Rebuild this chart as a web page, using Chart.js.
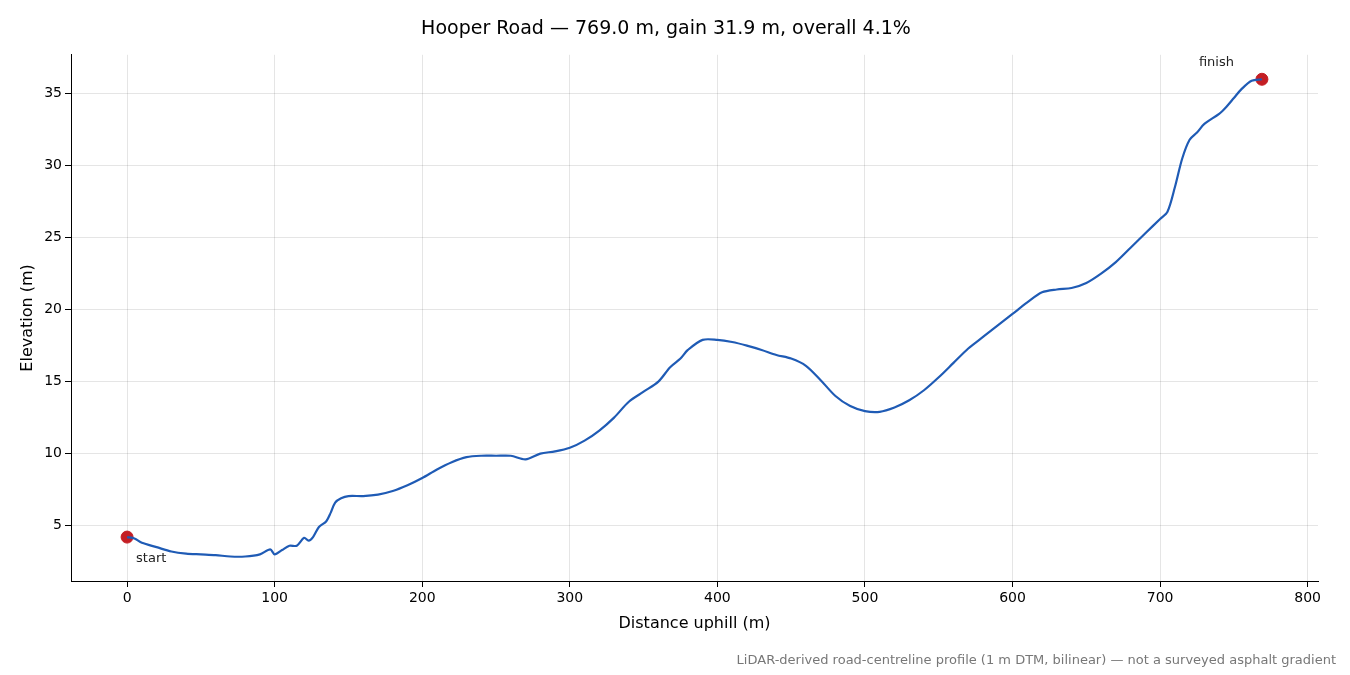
<!DOCTYPE html>
<html>
<head>
<meta charset="utf-8">
<script src="https://cdn.jsdelivr.net/npm/chart.js@4"></script>
<style>
  body { margin: 0; background: #fff; }
  #wrap { width: 1350px; height: 675px; position: relative; }
  #note { position: absolute; right: 14px; bottom: 8px; font: 13px "DejaVu Sans"; color: #777; }
</style>
</head>
<body>
<div id="wrap"><canvas id="profile" width="1350" height="675"></canvas><div id="note">LiDAR-derived road-centreline profile (1 m DTM, bilinear) — not a surveyed asphalt gradient</div></div>
<script>
// distance along road (m) and elevation (m)
const distance = [0,5,10,20,30,40,50,60,70,80,90,97,100,105,110,115,120,123,126,130,135,138,141,145,150,160,170,180,190,200,210,220,230,240,250,260,270,280,290,300,310,320,330,340,350,360,368,375,380,390,400,410,420,430,440,450,460,470,480,490,500,510,520,530,540,550,560,570,580,590,600,610,620,630,640,650,660,670,680,690,700,705,710,715,720,725,730,740,745,750,755,762,769];
const elevation = [4.2,4.1,3.8,3.5,3.2,3.05,3.0,2.95,2.85,2.85,3.0,3.35,3.0,3.3,3.6,3.6,4.15,3.95,4.2,4.9,5.3,5.9,6.6,6.9,7.05,7.05,7.15,7.4,7.8,8.3,8.9,9.4,9.75,9.85,9.85,9.85,9.6,10.0,10.15,10.4,10.9,11.6,12.5,13.6,14.3,15.0,16.0,16.6,17.2,17.9,17.9,17.75,17.5,17.2,16.85,16.6,16.1,15.1,14.0,13.3,12.95,12.9,13.2,13.7,14.4,15.3,16.3,17.3,18.1,18.9,19.7,20.5,21.2,21.4,21.5,21.85,22.5,23.3,24.3,25.3,26.3,26.8,28.5,30.5,31.8,32.3,32.9,33.6,34.1,34.7,35.3,35.9,36.0];
const xTicks = [0,100,200,300,400,500,600,700,800];
const yTicks = [5,10,15,20,25,30,35];

const profile = distance.map((d, i) => ({x: d, y: elevation[i]}));
const ends = [profile[0], profile[profile.length - 1]];

const endLabels = {
    id: 'endLabels',
    afterDatasetsDraw(chart) {
        const {ctx, scales: {x, y}} = chart;
        ctx.save();
        ctx.font = '13px "DejaVu Sans"';
        ctx.fillStyle = '#222';
        ctx.fillText('start', x.getPixelForValue(ends[0].x) + 9, y.getPixelForValue(ends[0].y) + 25);
        ctx.fillText('finish', x.getPixelForValue(ends[1].x) - 63, y.getPixelForValue(ends[1].y) - 13);
        ctx.restore();
    }
};

Chart.defaults.font.family = '"DejaVu Sans"';
Chart.defaults.color = '#000';

new Chart(document.getElementById('profile'), {
    type: 'scatter',
    data: {
        datasets: [
            {data: profile, showLine: true, borderColor: '#1f5bb5', borderWidth: 2.2, pointRadius: 0, tension: 0.3},
            {data: ends, pointRadius: 6, backgroundColor: '#c41e24', borderColor: '#c41e24'}
        ]
    },
    options: {
        responsive: false,
        animation: false,
        devicePixelRatio: 1,
        layout: {padding: {top: 8, right: 32, left: 14, bottom: 38}},
        plugins: {
            legend: {display: false},
            tooltip: {enabled: false},
            title: {display: true, text: 'Hooper Road — 769.0 m, gain 31.9 m, overall 4.1%', font: {size: 19, weight: 'normal'}, color: '#000', padding: {top: 10, bottom: 14}}
        },
        scales: {
            x: {
                min: -38, max: 807,
                ticks: {font: {size: 14}, color: '#000', maxRotation: 0},
                grid: {color: 'rgba(0,0,0,0.1)', tickColor: '#000', tickLength: 6},
                border: {color: '#000'},
                title: {display: true, text: 'Distance uphill (m)', font: {size: 16}, color: '#000'},
                afterBuildTicks: axis => { axis.ticks = xTicks.map(v => ({value: v})); }
            },
            y: {
                min: 1.15, max: 37.7,
                ticks: {font: {size: 14}, color: '#000'},
                grid: {color: 'rgba(0,0,0,0.1)', tickColor: '#000', tickLength: 6},
                border: {color: '#000'},
                title: {display: true, text: 'Elevation (m)', font: {size: 16}, color: '#000'},
                afterBuildTicks: axis => { axis.ticks = yTicks.map(v => ({value: v})); }
            }
        }
    },
    plugins: [endLabels]
});
</script>
</body>
</html>
